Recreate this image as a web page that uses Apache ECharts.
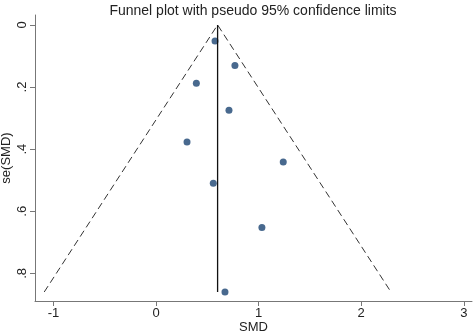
<!DOCTYPE html>
<html><head><meta charset="utf-8">
<script src="https://cdn.jsdelivr.net/npm/echarts@6/dist/echarts.min.js"></script>
<style>html,body{margin:0;padding:0;background:#fff}#c{width:474px;height:333px}</style>
</head><body><div id="c"></div>
<script>
const titleText = "Funnel plot with pseudo 95% confidence limits";
const smd = [0.575, 0.769, 0.393, 0.711, 0.302, 1.240, 0.558, 1.032, 0.672];
const seSmd = [0.052, 0.131, 0.188, 0.275, 0.377, 0.441, 0.510, 0.652, 0.860];
const funnelX = [-1.09, 0.60, 2.29];
const funnelY = [0.86, 0.0, 0.86];
const pooledX = [0.60, 0.60];
const pooledY = [0.0, 0.86];
const xTicks = [-1, 0, 1, 2, 3];
const yTicks = [0, 0.2, 0.4, 0.6, 0.8];
const yTickLabels = ["0", ".2", ".4", ".6", ".8"];

const font = "Liberation Sans, Arial, sans-serif";
const chart = echarts.init(document.getElementById('c'), null, {renderer:'canvas'});
chart.setOption({
  animation:false,
  backgroundColor:'#fff',
  title:{text:titleText,left:248,textAlign:'center',top:-1,textStyle:{fontFamily:font,fontSize:14,fontWeight:'normal',color:'#222'}},
  grid:{left:35,right:2,top:15,bottom:32,containLabel:false,outerBoundsMode:'none'},
  xAxis:{type:'value',min:-1.18,max:3.08,position:'bottom',
    name:'SMD',nameLocation:'middle',nameGap:20,nameMoveOverlap:false,nameTextStyle:{fontFamily:font,fontSize:13,color:'#222'},
    axisLine:{show:true,onZero:false,lineStyle:{color:'#777',width:1}},
    axisTick:{show:true,length:5,customValues:xTicks,lineStyle:{color:'#777'}},
    axisLabel:{customValues:xTicks,fontFamily:font,fontSize:13,color:'#222',margin:6},
    splitLine:{show:false}},
  yAxis:{type:'value',inverse:true,min:-0.032,max:0.889,position:'left',
    name:'se(SMD)',nameLocation:'middle',nameGap:22,nameMoveOverlap:false,nameRotate:90,nameTextStyle:{fontFamily:font,fontSize:13,color:'#222'},
    axisLine:{show:true,onZero:false,lineStyle:{color:'#777',width:1}},
    axisTick:{show:true,length:5,customValues:yTicks,lineStyle:{color:'#777'}},
    axisLabel:{customValues:yTicks,rotate:90,fontFamily:font,fontSize:13,color:'#222',margin:6,
      formatter:function(v){const i=yTicks.findIndex(t=>Math.abs(t-v)<1e-9);return i>=0?yTickLabels[i]:'';}},
    splitLine:{show:false}},
  series:[
    {type:'line',data:funnelX.map((x,i)=>[x,funnelY[i]]),symbol:'none',silent:true,
      lineStyle:{color:'#333',width:1,type:[7,4]}},
    {type:'line',data:pooledX.map((x,i)=>[x,pooledY[i]]),symbol:'none',silent:true,
      lineStyle:{color:'#111',width:1.3}},
    {type:'scatter',data:smd.map((x,i)=>[x,seSmd[i]]),symbol:'circle',symbolSize:7,
      itemStyle:{color:'#1a4472'}}
  ]
});
</script></body></html>
